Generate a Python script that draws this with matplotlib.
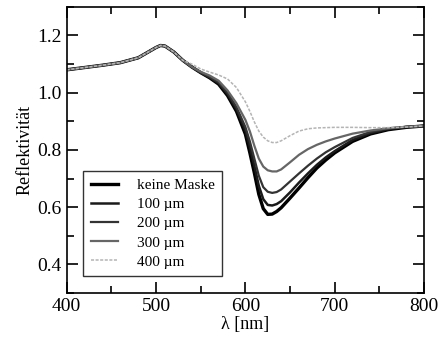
import matplotlib
matplotlib.use("Agg")
import matplotlib.pyplot as plt
from matplotlib.ticker import MultipleLocator

plt.rcParams['font.family'] = ['Liberation Serif', 'DejaVu Serif']

# wavelength grid (nm)
wl = [400, 420, 440, 460, 480, 490, 500, 505, 510, 520, 530, 540, 550, 560, 570,
      580, 590, 600, 605, 610, 615, 620, 625, 630, 635, 640, 650, 660, 670, 680,
      690, 700, 720, 740, 760, 780, 800]

head = [1.08, 1.088, 1.096, 1.105, 1.122, 1.14, 1.158, 1.165, 1.163, 1.142, 1.113, 1.09, 1.07]

keine = head + [1.052, 1.03, 0.99, 0.935, 0.855, 0.79, 0.72, 0.645, 0.595, 0.575, 0.576, 0.585,
                0.598, 0.632, 0.667, 0.703, 0.737, 0.765, 0.79, 0.83, 0.856, 0.871, 0.879, 0.884]
um100 = head + [1.053, 1.033, 0.995, 0.942, 0.868, 0.81, 0.745, 0.675, 0.628, 0.608, 0.606, 0.611,
                0.621, 0.652, 0.686, 0.718, 0.748, 0.774, 0.796, 0.835, 0.859, 0.873, 0.88, 0.884]
um200 = head + [1.055, 1.036, 1.0, 0.95, 0.88, 0.83, 0.77, 0.71, 0.67, 0.654, 0.65, 0.653,
                0.662, 0.69, 0.718, 0.745, 0.77, 0.792, 0.81, 0.842, 0.863, 0.875, 0.881, 0.884]
um300 = head[:-1] + [1.073, 1.06, 1.042, 1.008, 0.963, 0.905, 0.865, 0.815, 0.77, 0.742, 0.729,
                     0.725, 0.725, 0.732, 0.757, 0.783, 0.803, 0.818, 0.83, 0.84, 0.857, 0.868,
                     0.876, 0.881, 0.884]
um400 = head[:-2] + [1.1, 1.083, 1.072, 1.062, 1.048, 1.018, 0.968, 0.935, 0.898, 0.866, 0.845, 0.832,
                     0.826, 0.826, 0.832, 0.85, 0.866, 0.874, 0.877, 0.878, 0.879, 0.879, 0.878,
                     0.878, 0.88, 0.884]

labels = ['keine Maske', '100 µm', '200 µm', '300 µm', '400 µm']
series = [keine, um100, um200, um300, um400]
colors = ['#000000', '#1a1a1a', '#333333', '#666666', '#b4b4b4']
widths = [2.4, 1.8, 1.6, 1.6, 1.1]
styles = ['-', '-', '-', '-', (0, (2, 1))]

fig = plt.figure(figsize=(4.39, 3.42), dpi=100)
ax = fig.add_axes([0.152, 0.143, 0.814, 0.837])

for y, lab, c, lw, ls in zip(series, labels, colors, widths, styles):
    ax.plot(wl, y, color=c, lw=lw, ls=ls, label=lab)

ax.set_xlim(400, 800)
ax.set_ylim(0.3, 1.3)
ax.xaxis.set_major_locator(MultipleLocator(100))
ax.xaxis.set_minor_locator(MultipleLocator(50))
ax.yaxis.set_major_locator(MultipleLocator(0.2))
ax.yaxis.set_minor_locator(MultipleLocator(0.1))
ax.tick_params(which='both', direction='in', top=True, right=True, labelsize=14, width=1.2)
ax.tick_params(which='major', length=8)
ax.tick_params(which='minor', length=5)
for s in ax.spines.values():
    s.set_linewidth(1.2)

ax.set_xlabel('λ [nm]', fontsize=13, labelpad=1)
ax.set_ylabel('Reflektivität', fontsize=13, labelpad=3)

leg = ax.legend(loc='lower left', bbox_to_anchor=(0.046, 0.059), fontsize=11, frameon=True,
                fancybox=False, edgecolor='black', handlelength=1.8, handletextpad=1.2,
                borderpad=0.5, labelspacing=0.35, borderaxespad=0)
leg.get_frame().set_linewidth(1.0)

fig.savefig('out.png', dpi=100)
